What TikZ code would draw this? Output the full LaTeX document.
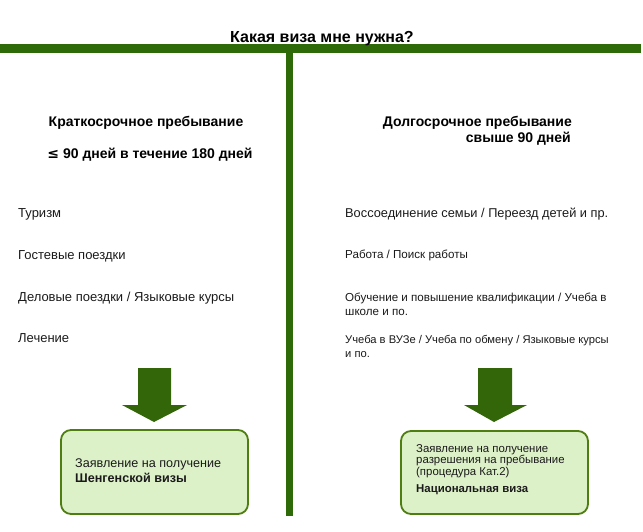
\documentclass[tikz,border=0pt]{standalone}
\usepackage{fontspec}
\setmainfont{Liberation Sans}
\newfontfamily\symfont{DejaVu Sans}
\definecolor{bargreen}{HTML}{2F6A08}
\definecolor{arrowgreen}{HTML}{336608}
\definecolor{boxfill}{HTML}{DDF1C9}
\definecolor{boxline}{HTML}{4E7D10}
\definecolor{txt}{HTML}{1A1A1A}
\begin{document}
\begin{tikzpicture}[x=1pt,y=-1pt,
  item/.style={anchor=base west,inner sep=0pt,font=\fontsize{13}{15}\selectfont,text=txt,align=left},
  head/.style={inner sep=0pt,font=\bfseries\fontsize{14}{16}\selectfont,text=black},
  resbox/.style={draw=boxline,line width=1.8pt,fill=boxfill,rounded corners=10pt},
  bigarrow/.style={fill=arrowgreen,draw=none}]
\useasboundingbox (0,0) rectangle (643,531);
% bars
\fill[bargreen] (0,44) rectangle (641,53);
\fill[bargreen] (286,50) rectangle (293,516);
\node[head,anchor=base,font=\bfseries\fontsize{16}{18}\selectfont] (title) at (322,42) {Какая виза мне нужна?};
% left column
\node[head,anchor=base] (lh1) at (146,126) {Краткосрочное пребывание};
\node[head,anchor=base] (lh2) at (150,158) {{\symfont ≤} 90 дней в течение 180 дней};
\node[item] (l1) at (18,217) {Туризм};
\node[item] (l2) at (18,259) {Гостевые поездки};
\node[item] (l3) at (18,301) {Деловые поездки / Языковые курсы};
\node[item] (l4) at (18,342) {Лечение};
% right column
\node[head,anchor=base east] (rh1) at (572,126) {Долгосрочное пребывание};
\node[head,anchor=base east] (rh2) at (571,142) {свыше 90 дней};
\node[item,font=\fontsize{12.8}{15}\selectfont] (r1) at (345,217) {Воссоединение семьи / Переезд детей и пр.};
\node[item,font=\fontsize{11.6}{14}\selectfont] (r2) at (345,258) {Работа / Поиск работы};
\node[item,font=\fontsize{11.6}{14}\selectfont] (r3) at (345,315) {Обучение и повышение квалификации / Учеба в\\школе и по.};
\node[item,font=\fontsize{11.2}{14}\selectfont] (r4) at (345,357) {Учеба в ВУЗе / Учеба по обмену / Языковые курсы\\и по.};
% arrows
\fill[bigarrow] (138,368) -- (171,368) -- (171,405) -- (187,405) -- (154,422) -- (122,405) -- (138,405) -- cycle;
\fill[bigarrow] (478,368) -- (512,368) -- (512,405) -- (527,405) -- (494,422) -- (464,405) -- (478,405) -- cycle;
% result boxes
\draw[resbox] (61,430) rectangle (248,514);
\node[item,font=\fontsize{12.6}{15}\selectfont] (lb) at (75,482) {Заявление на получение\\\textbf{Шенгенской визы}};
\draw[resbox] (401,431) rectangle (588,514);
\node[item,font=\fontsize{11.4}{11.6}\selectfont] (rb) at (416,492) {Заявление на получение\\разрешения на пребывание\\(процедура Кат.2)\\[5pt]\textbf{Национальная виза}};
\end{tikzpicture}
\end{document}
